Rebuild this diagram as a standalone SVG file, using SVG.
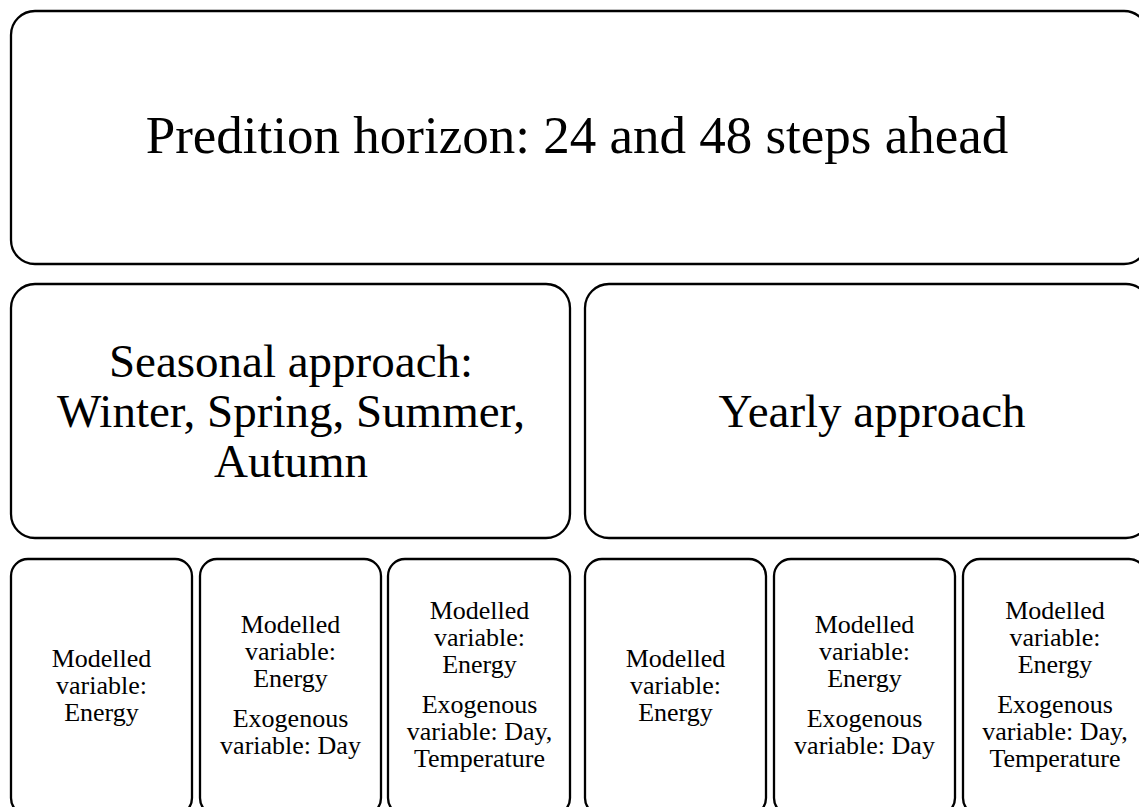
<svg xmlns="http://www.w3.org/2000/svg" width="1139" height="807" viewBox="0 0 1139 807">
  <style>
    .box { fill: #ffffff; stroke: #000000; stroke-width: 2.3; }
    .t { font-family: "Liberation Serif", "Times New Roman", serif; fill: #000000; text-anchor: middle; }
    .big { font-size: 53px; }
    .mid { font-size: 47px; }
    .small { font-size: 26px; }
  </style>
  <rect width="1139" height="807" fill="#ffffff"/>

  <!-- top level -->
  <g id="horizon">
    <rect class="box" x="11" y="11" width="1137" height="253" rx="24" ry="24"/>
    <text class="t big" x="577" y="153">Predition horizon: 24 and 48 steps ahead</text>
  </g>

  <!-- second level -->
  <g id="seasonal">
    <rect class="box" x="11" y="284" width="559" height="254" rx="24" ry="24"/>
    <text class="t mid" x="291" y="377">Seasonal approach:</text>
    <text class="t mid" x="291" y="427">Winter, Spring, Summer,</text>
    <text class="t mid" x="291" y="477">Autumn</text>
  </g>
  <g id="yearly">
    <rect class="box" x="585" y="284" width="565" height="254" rx="24" ry="24"/>
    <text class="t mid" x="872" y="427">Yearly approach</text>
  </g>

  <!-- third level: seasonal models -->
  <g id="seasonal-energy">
    <rect class="box" x="11" y="559" width="181" height="256" rx="17" ry="17"/>
    <text class="t small" x="101.5" y="667">Modelled</text>
    <text class="t small" x="101.5" y="694">variable:</text>
    <text class="t small" x="101.5" y="721">Energy</text>
  </g>
  <g id="seasonal-energy-day">
    <rect class="box" x="200" y="559" width="181" height="256" rx="17" ry="17"/>
    <text class="t small" x="290.5" y="633">Modelled</text>
    <text class="t small" x="290.5" y="660">variable:</text>
    <text class="t small" x="290.5" y="687">Energy</text>
    <text class="t small" x="290.5" y="727">Exogenous</text>
    <text class="t small" x="290.5" y="754">variable: Day</text>
  </g>
  <g id="seasonal-energy-day-temp">
    <rect class="box" x="388" y="559" width="182" height="256" rx="17" ry="17"/>
    <text class="t small" x="479.5" y="619">Modelled</text>
    <text class="t small" x="479.5" y="646">variable:</text>
    <text class="t small" x="479.5" y="673">Energy</text>
    <text class="t small" x="479.5" y="713">Exogenous</text>
    <text class="t small" x="479.5" y="740">variable: Day,</text>
    <text class="t small" x="479.5" y="767">Temperature</text>
  </g>

  <!-- third level: yearly models -->
  <g id="yearly-energy">
    <rect class="box" x="585" y="559" width="181" height="256" rx="17" ry="17"/>
    <text class="t small" x="675.5" y="667">Modelled</text>
    <text class="t small" x="675.5" y="694">variable:</text>
    <text class="t small" x="675.5" y="721">Energy</text>
  </g>
  <g id="yearly-energy-day">
    <rect class="box" x="774" y="559" width="181" height="256" rx="17" ry="17"/>
    <text class="t small" x="864.5" y="633">Modelled</text>
    <text class="t small" x="864.5" y="660">variable:</text>
    <text class="t small" x="864.5" y="687">Energy</text>
    <text class="t small" x="864.5" y="727">Exogenous</text>
    <text class="t small" x="864.5" y="754">variable: Day</text>
  </g>
  <g id="yearly-energy-day-temp">
    <rect class="box" x="963" y="559" width="183" height="256" rx="17" ry="17"/>
    <text class="t small" x="1055" y="619">Modelled</text>
    <text class="t small" x="1055" y="646">variable:</text>
    <text class="t small" x="1055" y="673">Energy</text>
    <text class="t small" x="1055" y="713">Exogenous</text>
    <text class="t small" x="1055" y="740">variable: Day,</text>
    <text class="t small" x="1055" y="767">Temperature</text>
  </g>

  <!-- hierarchy has no drawn connectors -->
  <g id="connectors"/>
</svg>
